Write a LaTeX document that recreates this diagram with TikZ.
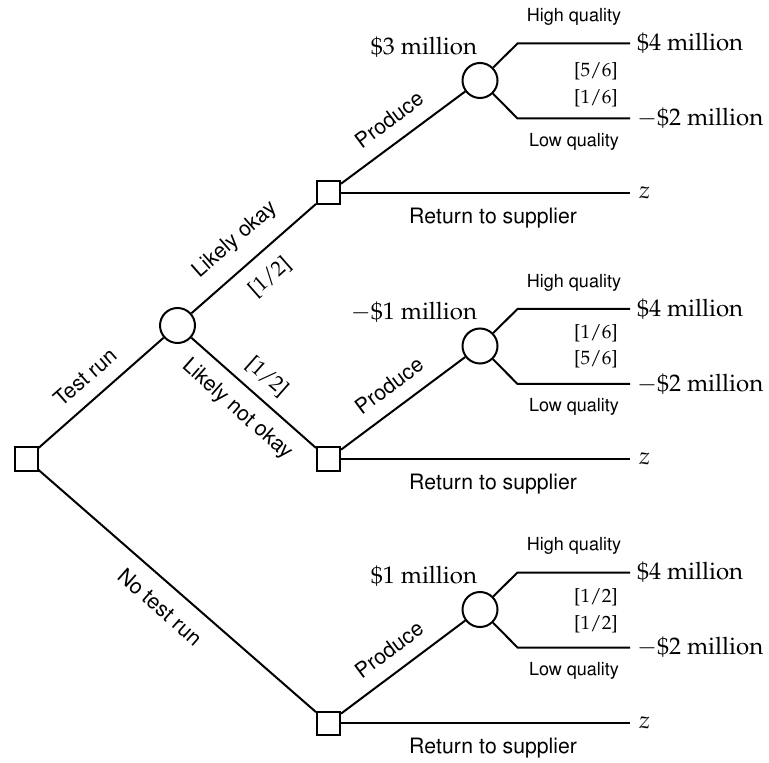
\documentclass[tikz,border=0pt]{standalone}
\usepackage[T1]{fontenc}
\usepackage{mathpazo}
\usepackage{helvet}
\begin{document}
\begin{tikzpicture}[x=0.5pt, y=-0.5pt, line width=1pt,
  decision/.style={draw, rectangle, minimum size=11.5pt, inner sep=0pt},
  chance/.style={draw, circle, minimum size=17.5pt, inner sep=0pt},
  act/.style={inner sep=0pt, font=\sffamily\fontsize{10.6}{12.7}\selectfont},
  qual/.style={inner sep=0pt, font=\sffamily\fontsize{9}{10.8}\selectfont},
  pay/.style={inner sep=0pt, font=\rmfamily\fontsize{12}{14.4}\selectfont},
  prob/.style={inner sep=0pt, font=\rmfamily\fontsize{9.6}{11.5}\selectfont},
  bigprob/.style={inner sep=0pt, font=\rmfamily\fontsize{10.6}{12.7}\selectfont},
]
\useasboundingbox (0,0) rectangle (769,763);

% decision and chance nodes
\node[decision] (root) at (26,459) {};
\node[chance]   (test) at (177.5,325.5) {};
\node[decision] (dA) at (328.5,193) {};
\node[decision] (dB) at (328.5,459) {};
\node[decision] (dC) at (328.5,723) {};
\node[chance]   (cA) at (480,80.5) {};
\node[chance]   (cB) at (480,346) {};
\node[chance]   (cC) at (480,609.5) {};

% first stage
\draw (root) -- (test);
\draw (test) -- (dA);
\draw (test) -- (dB);
\draw (root) -- (dC);
\node[act, rotate=41.4]  (lTest)  at (85,377)  {Test run};
\node[act, rotate=41.4]  (lOk)    at (235,240) {Likely okay};
\node[bigprob, rotate=41.4]  (pOk)    at (270,277) {[1/2]};
\node[bigprob, rotate=-41.4] (pNotOk) at (267,377) {[1/2]};
\node[act, rotate=-41.4] (lNotOk) at (237,410) {Likely not okay};
\node[act, rotate=-41.4] (lNoTest) at (160,607) {No test run};

% produce / return sub-trees
\foreach \n/\d/\c in {A/193/80.5, B/459/346, C/723/609.5}{
  \coordinate (hi\n) at (517.5,\c-37);
  \coordinate (hiEnd\n) at (630,\c-37);
  \coordinate (lo\n) at (517.5,\c+38);
  \coordinate (loEnd\n) at (630,\c+38);
  \coordinate (zEnd\n) at (630,\d);
  \draw (d\n) -- (c\n);
  \draw (c\n) -- (hi\n) -- (hiEnd\n);
  \draw (c\n) -- (lo\n) -- (loEnd\n);
  \draw (d\n) -- (zEnd\n);
  \node[act, rotate=36.7] (prod\n) at (389,\d-73.5) {Produce};
  \node[act] (ret\n) at (493,\d+25) {Return to supplier};
  \node[qual] (hq\n) at (574,\c-63) {High quality};
  \node[qual] (lq\n) at (574,\c+61) {Low quality};
  \node[pay, anchor=west] (four\n) at (636,\c-37) {\$4 million};
  \node[pay, anchor=west] (two\n) at (636,\c+38) {$-$\$2 million};
  \node[pay, anchor=west] (z\n) at (638,\d) {$z$};
}

% expected values at the chance nodes
\node[pay, anchor=base east] (vA) at (478,54.5)  {\$3 million};
\node[pay, anchor=base east] (vB) at (478,320)   {$-$\$1 million};
\node[pay, anchor=base east] (vC) at (478,583.5) {\$1 million};

% branch probabilities
\node[prob] (phA) at (596,71)  {[5/6]};
\node[prob] (plA) at (596,98)  {[1/6]};
\node[prob] (phB) at (596,333) {[1/6]};
\node[prob] (plB) at (596,359) {[5/6]};
\node[prob] (phC) at (596,597) {[1/2]};
\node[prob] (plC) at (596,624) {[1/2]};
\end{tikzpicture}
\end{document}
